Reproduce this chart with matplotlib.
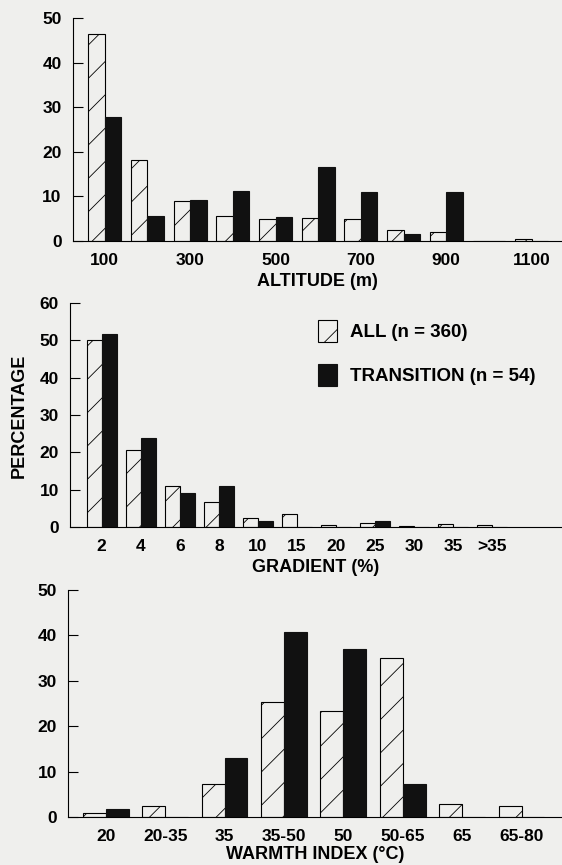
import numpy as np
import matplotlib
matplotlib.use("Agg")
import matplotlib.pyplot as plt

# Dati (percentuali)
alt_cats = ["100", "200", "300", "400", "500", "600", "700", "800", "900", "1000", "1100"]
alt_all = [46.5, 18.2, 8.9, 5.7, 4.85, 5.15, 4.85, 2.5, 2.0, 0.0, 0.4]
alt_trans = [27.8, 5.5, 9.25, 11.1, 5.45, 16.6, 11.0, 1.6, 11.0, 0.0, 0.0]

grad_cats = ["2", "4", "6", "8", "10", "15", "20", "25", "30", "35", ">35"]
grad_all = [50.0, 20.5, 10.9, 6.7, 2.5, 3.6, 0.4, 1.1, 0.3, 0.7, 0.6]
grad_trans = [51.7, 23.9, 9.1, 10.9, 1.6, 0.0, 0.0, 1.5, 0.0, 0.0, 0.0]

warm_cats = ["20", "20-35", "35", "35-50", "50", "50-65", "65", "65-80"]
warm_all = [0.9, 2.5, 7.3, 25.3, 23.3, 35.0, 2.8, 2.5]
warm_trans = [1.8, 0.0, 13.0, 40.7, 37.1, 7.3, 0.0, 0.0]

SFONDO = "#efefed"
plt.rcParams["font.family"] = ["Liberation Sans", "DejaVu Sans"]
plt.rcParams["font.weight"] = "bold"
plt.rcParams["hatch.linewidth"] = 0.6

W, H = 562, 865
fig = plt.figure(figsize=(W / 100, H / 100), dpi=100, facecolor=SFONDO)

def pannello(rect, cats, v_all, v_trans, ymax, xlim, xlabel, show_every=1, lpad=3.5):
    ax = fig.add_axes(rect, facecolor=SFONDO)
    x = np.arange(len(cats))
    w = 0.385
    b1 = ax.bar(x - w / 2, v_all, w, color=SFONDO, edgecolor="black",
                hatch="/", linewidth=0.8, label="ALL (n = 360)")
    b2 = ax.bar(x + w / 2, v_trans, w, color="#111111", edgecolor="#111111",
                linewidth=0.8, label="TRANSITION (n = 54)")
    ax.set_xlim(*xlim)
    ax.set_ylim(0, ymax)
    ax.set_yticks(np.arange(0, ymax + 1, 10))
    ax.set_xticks(x)
    ax.set_xticklabels([c if i % show_every == 0 else "" for i, c in enumerate(cats)],
                       fontsize=12.5, fontweight="bold")
    for t in ax.get_yticklabels():
        t.set_fontsize(12.5)
        t.set_fontweight("bold")
    ax.tick_params(axis="x", length=0, pad=9)
    ax.tick_params(axis="y", direction="in", length=7.5, width=0.8, pad=8)
    for s in ["top", "right"]:
        ax.spines[s].set_visible(False)
    for s in ["left", "bottom"]:
        ax.spines[s].set_linewidth(0.8)
    ax.set_xlabel(xlabel, fontsize=13, fontweight="bold", labelpad=lpad)
    return ax, b1, b2

ax1, _, _ = pannello([0.1295, 0.7214, 0.8705, 0.2578], alt_cats, alt_all, alt_trans,
                     50, (-0.75, 10.71), "ALTITUDE (m)", show_every=2)
ax2, b1, b2 = pannello([0.1244, 0.3908, 0.8756, 0.2590], grad_cats, grad_all, grad_trans,
                       60, (-0.81, 11.78), "GRADIENT (%)")
ax3, _, _ = pannello([0.121, 0.0555, 0.879, 0.2624], warm_cats, warm_all, warm_trans,
                     50, (-0.635, 7.68), "WARMTH INDEX (°C)", lpad=1.0)

leg = ax2.legend(handles=[b1, b2], loc="upper left", bbox_to_anchor=(0.504, 0.925),
                 frameon=False, borderaxespad=0, borderpad=0,
                 handlelength=1.0, handleheight=1.45, handletextpad=0.7,
                 labelspacing=1.15, prop={"size": 13.5, "weight": "bold"})

fig.text(19.7 / W, 1 - 416 / H, "PERCENTAGE", rotation=90, ha="center", va="center",
         fontsize=13, fontweight="bold")

plt.savefig("out.png", dpi=100, facecolor=SFONDO)
print("Figura salvata: out.png")
